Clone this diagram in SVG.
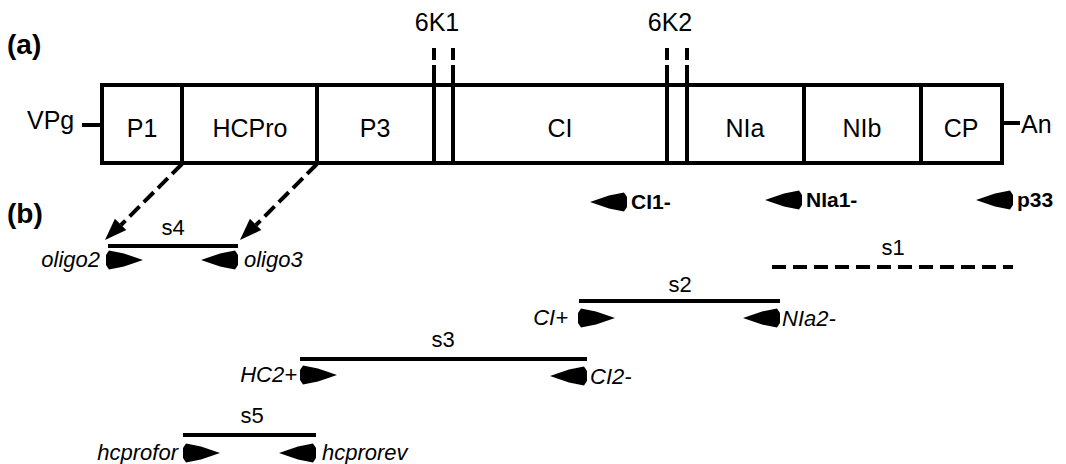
<svg xmlns="http://www.w3.org/2000/svg" width="1066" height="464" viewBox="0 0 1066 464">
  <defs>
    <style>
      .reg { font-family: "Liberation Sans", Arial, sans-serif; font-size: 25px; fill: #000; }
      .lbl { font-family: "Liberation Sans", Arial, sans-serif; font-size: 22px; fill: #000; }
      .ital { font-family: "Liberation Sans", Arial, sans-serif; font-size: 22px; font-style: italic; fill: #000; }
      .bold { font-family: "Liberation Sans", Arial, sans-serif; font-size: 21px; font-weight: bold; fill: #000; }
      .panel { font-family: "Liberation Sans", Arial, sans-serif; font-size: 28px; font-weight: bold; fill: #000; }
      .box { fill: #fff; stroke: #000; stroke-width: 4; }
      .div { stroke: #000; stroke-width: 4; fill: none; }
      .seg { stroke: #000; stroke-width: 4; fill: none; }
      .dash { stroke: #000; stroke-width: 4; fill: none; stroke-dasharray: 14 6; }
      .prim { fill: #000; }
    </style>
    <!-- primer arrowheads: forward points right, reverse points left; origin at the back end -->
    <path id="fwd" d="M0,-5 L3,-9.5 L18,-6.5 L37,0 L18,6.5 L3,9.5 L0,5 Z"/>
    <path id="rev" d="M0,-5 L-3,-9.5 L-18,-6.5 L-37,0 L-18,6.5 L-3,9.5 L0,5 Z"/>
  </defs>

  <text class="panel" x="7" y="54">(a)</text>
  <text class="panel" x="7" y="223">(b)</text>

  <!-- genome map -->
  <g id="genome">
    <text class="reg" x="27" y="129">VPg</text>
    <line class="div" x1="82" y1="125" x2="102" y2="125"/>
    <rect class="box" x="102" y="85" width="900" height="78"/>
    <line class="div" x1="182" y1="85" x2="182" y2="163"/>
    <line class="div" x1="317" y1="85" x2="317" y2="163"/>
    <line class="div" x1="434" y1="65" x2="434" y2="163"/>
    <line class="div" x1="453" y1="65" x2="453" y2="163"/>
    <line class="div" x1="667" y1="65" x2="667" y2="163"/>
    <line class="div" x1="687" y1="65" x2="687" y2="163"/>
    <line class="div" x1="804" y1="85" x2="804" y2="163"/>
    <line class="div" x1="921" y1="85" x2="921" y2="163"/>
    <line class="div" x1="1002" y1="123" x2="1020" y2="123"/>
    <text class="reg" x="1021" y="133">An</text>
  </g>
  <g id="k6-1">
    <line class="div" x1="434" y1="48" x2="434" y2="60"/>
    <line class="div" x1="453" y1="48" x2="453" y2="60"/>
    <text class="reg" x="437" y="31" text-anchor="middle">6K1</text>
  </g>
  <g id="k6-2">
    <line class="div" x1="667" y1="48" x2="667" y2="60"/>
    <line class="div" x1="687" y1="48" x2="687" y2="60"/>
    <text class="reg" x="670" y="31" text-anchor="middle">6K2</text>
  </g>
  <g id="p1"><text class="reg" x="142" y="137" text-anchor="middle">P1</text></g>
  <g id="hcpro"><text class="reg" x="250" y="137" text-anchor="middle">HCPro</text></g>
  <g id="p3"><text class="reg" x="375" y="137" text-anchor="middle">P3</text></g>
  <g id="ci"><text class="reg" x="560" y="137" text-anchor="middle">CI</text></g>
  <g id="nia"><text class="reg" x="745" y="137" text-anchor="middle">NIa</text></g>
  <g id="nib"><text class="reg" x="862" y="137" text-anchor="middle">NIb</text></g>
  <g id="cp"><text class="reg" x="961" y="137" text-anchor="middle">CP</text></g>

  <!-- reverse primers under the map -->
  <g id="ci1">
    <use href="#rev" class="prim" x="627" y="202"/>
    <text class="bold" x="631" y="209">CI1-</text>
  </g>
  <g id="nia1">
    <use href="#rev" class="prim" x="802" y="200"/>
    <text class="bold" x="806" y="207">NIa1-</text>
  </g>
  <g id="p33">
    <use href="#rev" class="prim" x="1013" y="200"/>
    <text class="bold" x="1017" y="207">p33</text>
  </g>

  <!-- amplified segments -->
  <g id="s4">
    <line class="seg" x1="108" y1="246" x2="238" y2="246"/>
    <text class="lbl" x="173" y="235" text-anchor="middle">s4</text>
    <use href="#fwd" class="prim" x="106" y="260"/>
    <text class="ital" x="100" y="267" text-anchor="end">oligo2</text>
    <use href="#rev" class="prim" x="238" y="260"/>
    <text class="ital" x="244" y="267">oligo3</text>
  </g>
  <g id="s1">
    <line class="seg" x1="772" y1="267" x2="1013" y2="267" stroke-dasharray="14 7"/>
    <text class="lbl" x="893" y="255" text-anchor="middle">s1</text>
  </g>
  <g id="s2">
    <line class="seg" x1="579" y1="301" x2="780" y2="301"/>
    <text class="lbl" x="680" y="292" text-anchor="middle">s2</text>
    <use href="#fwd" class="prim" x="578" y="318"/>
    <text class="ital" x="568" y="325" text-anchor="end">CI+</text>
    <use href="#rev" class="prim" x="780" y="318"/>
    <text class="ital" x="782" y="326">NIa2-</text>
  </g>
  <g id="s3">
    <line class="seg" x1="300" y1="359" x2="587" y2="359"/>
    <text class="lbl" x="443" y="347" text-anchor="middle">s3</text>
    <use href="#fwd" class="prim" x="300" y="375"/>
    <text class="ital" x="297" y="382" text-anchor="end">HC2+</text>
    <use href="#rev" class="prim" x="587" y="376"/>
    <text class="ital" x="590" y="384">CI2-</text>
  </g>
  <g id="s5">
    <line class="seg" x1="183" y1="435" x2="316" y2="435"/>
    <text class="lbl" x="252" y="423" text-anchor="middle">s5</text>
    <use href="#fwd" class="prim" x="183" y="453"/>
    <text class="ital" x="178" y="460" text-anchor="end">hcprofor</text>
    <use href="#rev" class="prim" x="316" y="453"/>
    <text class="ital" x="322" y="460">hcprorev</text>
  </g>

  <!-- connectors from the HCPro boundaries down to segment s4 -->
  <g id="connectors">
    <line class="dash" x1="182" y1="164" x2="121" y2="225"/>
    <polygon points="105,240 126.3,230.1 114.9,218.7" fill="#000"/>
    <line class="dash" x1="317" y1="164" x2="256" y2="225"/>
    <polygon points="240,240 261.3,230.1 249.9,218.7" fill="#000"/>
  </g>
</svg>
